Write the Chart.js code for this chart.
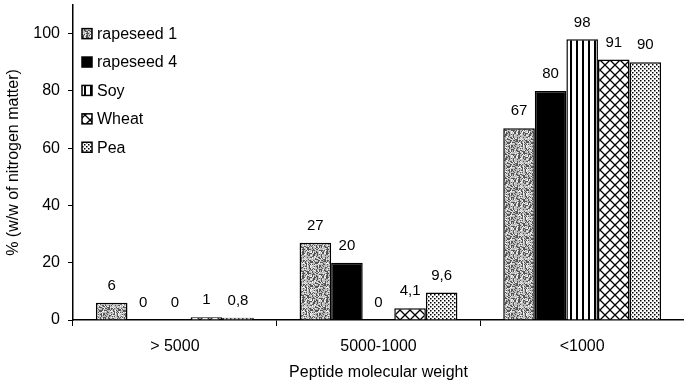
<!DOCTYPE html>
<html>
<head>
<meta charset="utf-8">
<script src="https://cdn.jsdelivr.net/npm/chart.js@4.4.0/dist/chart.umd.min.js"></script>
<style>
  html, body { margin: 0; padding: 0; background: #fff; }
  #wrap { width: 684px; height: 386px; position: relative; }
</style>
</head>
<body>
<div id="wrap"><canvas id="c" width="684" height="386"></canvas></div>
<script>
// ---- data ----
const categories = ['> 5000', '5000-1000', '<1000'];
const seriesNames = ['rapeseed 1', 'rapeseed 4', 'Soy', 'Wheat', 'Pea'];
const rapeseed1 = [6, 27, 67];
const rapeseed4 = [0, 20, 80];
const soy = [0, 0, 98];
const wheat = [1, 4.1, 91];
const pea = [0.8, 9.6, 90];
const yTicks = [0, 20, 40, 60, 80, 100];
const xTitle = 'Peptide molecular weight';
const yTitle = '% (w/w of nitrogen matter)';

const FONT = '"Liberation Sans", Arial, Helvetica, sans-serif';

// ---- patterns (style only) ----
function makeTile(w, h, draw) {
  const c = document.createElement('canvas');
  c.width = w; c.height = h;
  const g = c.getContext('2d');
  g.fillStyle = '#fff'; g.fillRect(0, 0, w, h);
  draw(g, w, h);
  return c;
}
function hash2(x, y) {
  let h = (Math.imul(x, 374761393) + Math.imul(y, 668265263)) | 0;
  h = Math.imul(h ^ (h >>> 13), 1274126177);
  h = h ^ (h >>> 16);
  return (h >>> 0) % 100;
}
const ctxMain = document.getElementById('c').getContext('2d');
// stipple gray (deterministic hash texture)
const stippleTile = makeTile(24, 24, (g, w, h) => {
  g.fillStyle = '#bdbdbd'; g.fillRect(0, 0, w, h);
  for (let y = 0; y < h; y++) for (let x = 0; x < w; x++) {
    const v = hash2(x, y);
    if (v < 35) { g.fillStyle = '#555'; g.fillRect(x, y, 1, 1); }
    else if (v > 80) { g.fillStyle = '#f0f0f0'; g.fillRect(x, y, 1, 1); }
  }
});
const stripeTile = makeTile(6, 6, (g) => {
  g.fillStyle = '#000'; g.fillRect(0, 0, 2, 6);
});
const crossTile = makeTile(10, 10, (g) => {
  g.strokeStyle = '#000'; g.lineWidth = 1.3;
  g.beginPath();
  g.moveTo(-1, -1); g.lineTo(11, 11);
  g.moveTo(11, -1); g.lineTo(-1, 11);
  g.stroke();
});
const dotTile = makeTile(4, 4, (g) => {
  g.fillStyle = '#000';
  g.fillRect(0, 0, 1.5, 1.5);
  g.fillRect(2, 2, 1.5, 1.5);
});
const fills = [
  ctxMain.createPattern(stippleTile, 'repeat'),
  '#000',
  ctxMain.createPattern(stripeTile, 'repeat'),
  ctxMain.createPattern(crossTile, 'repeat'),
  ctxMain.createPattern(dotTile, 'repeat')
];
const seriesData = [rapeseed1, rapeseed4, soy, wheat, pea];

const datasets = seriesNames.map((name, i) => ({
  label: name,
  data: seriesData[i],
  backgroundColor: fills[i],
  borderColor: '#000',
  borderWidth: 1.5,
  borderSkipped: 'start',
  categoryPercentage: 0.775,
  barPercentage: 1.0
}));

// value labels plugin
const valueLabels = {
  id: 'valueLabels',
  afterDatasetsDraw(chart) {
    const g = chart.ctx;
    g.save();
    g.font = '15px ' + FONT;
    g.fillStyle = '#000';
    g.textAlign = 'center';
    g.textBaseline = 'middle';
    chart.data.datasets.forEach((ds, di) => {
      const meta = chart.getDatasetMeta(di);
      meta.data.forEach((bar, i) => {
        const v = ds.data[i];
        const txt = String(v).replace('.', ',');
        g.fillText(txt, bar.x, bar.y - 17);
      });
    });
    g.restore();
  }
};

// inner legend plugin
const innerLegend = {
  id: 'innerLegend',
  afterDraw(chart) {
    const g = chart.ctx;
    const area = chart.chartArea;
    const yScale = chart.scales.y;
    g.save();
    g.font = '16px ' + FONT;
    g.textBaseline = 'middle';
    g.textAlign = 'left';
    const x0 = area.left + 9;
    const yStart = yScale.getPixelForValue(100);
    const step = 28.4;
    chart.data.datasets.forEach((ds, i) => {
      const cy = yStart + i * step;
      g.fillStyle = ds.backgroundColor;
      g.fillRect(x0, cy - 5, 10, 10);
      g.strokeStyle = '#000';
      g.lineWidth = 1.5;
      g.strokeRect(x0, cy - 5, 10, 10);
      g.fillStyle = '#000';
      g.fillText(ds.label, x0 + 15, cy + 1);
    });
    g.restore();
  }
};

new Chart(document.getElementById('c'), {
  type: 'bar',
  data: { labels: categories, datasets },
  options: {
    responsive: false,
    animation: false,
    devicePixelRatio: 1,
    layout: { padding: { top: 5, right: -4, left: 0, bottom: 0 } },
    plugins: {
      legend: { display: false },
      tooltip: { enabled: false }
    },
    scales: {
      x: {
        afterFit(s) { s.height = 66; s.paddingLeft = 0; s.paddingRight = 0; },
        grid: { display: true, drawOnChartArea: false, tickLength: 6, color: '#000', offset: true },
        border: { display: true, color: '#000', width: 1.5 },
        ticks: { color: '#000', font: { family: FONT, size: 16 }, padding: 11, maxRotation: 0 },
        title: { display: true, text: xTitle, color: '#000', font: { family: FONT, size: 16 }, padding: { top: 0, bottom: 4 } }
      },
      y: {
        min: 0,
        max: 110,
        afterFit(s) { s.width = 73; s.paddingTop = 0; s.paddingBottom = 0; },
        afterBuildTicks(s) { s.ticks = yTicks.map(v => ({ value: v })); },
        grid: { display: true, drawOnChartArea: false, tickLength: 5, color: '#000' },
        border: { display: true, color: '#000', width: 1.5 },
        ticks: { color: '#000', font: { family: FONT, size: 16 }, padding: 8 },
        title: { display: true, text: yTitle, color: '#000', font: { family: FONT, size: 16 }, padding: { top: 4, bottom: 0 } }
      }
    }
  },
  plugins: [valueLabels, innerLegend]
});
</script>
</body>
</html>
